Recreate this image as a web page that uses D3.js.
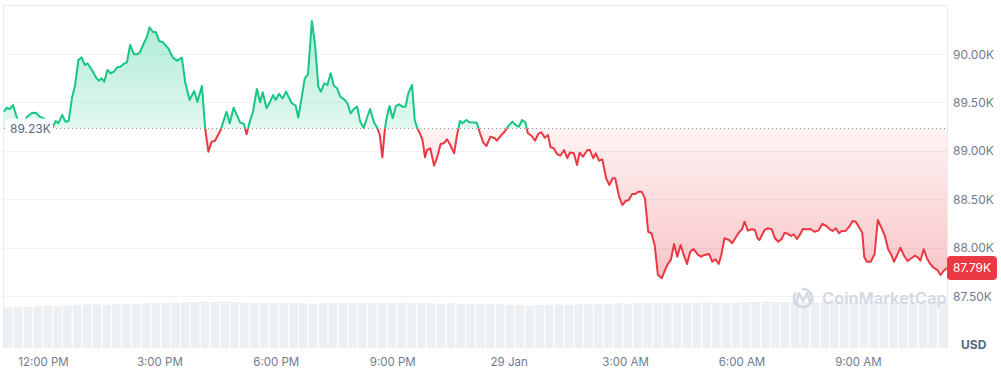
<!DOCTYPE html>
<html>
<head>
<meta charset="utf-8">
<script src="https://cdn.jsdelivr.net/npm/d3@7"></script>
<style>
  body { margin: 0; background: #fff; }
  svg { display: block; font-family: Inter, "Noto Sans", sans-serif; }
</style>
</head>
<body>
<div id="chart"></div>
<script>
// minutes after 28 Jan 12:00 PM
const minutes = [-61,-57,-52,-47,-41,-36,-30,-26,-18,-12,
  -5,2,13,19,23,29,34,39,44,49,
  54,59,64,68,75,82,86,90,94,99,
  104,109,114,119,124,129,134,140,145,149,
  154,160,164,169,174,179,185,193,200,207,
  214,219,226,233,238,245,250,255,260,265,
  274,283,288,294,304,310,314,319,324,330,
  335,339,345,350,355,359,364,370,375,384,
  390,394,399,404,409,415,420,425,429,434,
  439,444,449,454,459,466,470,475,480,485,
  490,495,500,505,511,516,520,524,528,531,
  535,540,545,550,555,560,564,570,574,578,
  582,586,590,593,598,604,609,614,619,624,
  629,635,639,644,648,654,659,670,675,680,
  685,691,698,701,708,713,718,725,730,735,
  740,745,749,755,760,765,770,775,780,784,
  789,794,799,805,810,814,820,825,829,834,
  841,845,850,854,859,864,870,875,880,884,
  890,895,900,905,910,915,920,925,930,935,
  940,945,950,956,961,966,970,975,980,985,
  990,995,1000,1005,1012,1017,1022,1029,1034,1039,
  1044,1048,1053,1060,1065,1070,1075,1080,1084,1089,
  1095,1100,1104,1107,1115,1120,1126,1131,1136,1141,
  1146,1151,1156,1160,1165,1170,1174,1181,1186,1192,
  1198,1204,1210,1216,1220,1225,1230,1234,1240,1246,
  1251,1256,1261,1266,1269,1273,1279,1285,1290,1296,
  1301,1306,1311,1315,1320,1325,1330,1336,1342,1347,
  1352,1356,1361,1366,1371,1376,1382,1387,1392,1397];

const prices = [89404,89445,89432,89473,89339,89267,89277,89346,89390,89394,
  89349,89329,89228,89308,89284,89370,89301,89308,89542,89680,
  89938,89966,89886,89904,89835,89749,89724,89749,89714,89835,
  89801,89817,89863,89869,89897,89914,90093,89997,89997,90018,
  90093,90179,90276,90230,90224,90134,90121,90059,89962,89931,
  89962,89714,89525,89618,89507,89669,89232,88991,89094,89101,
  89215,89404,89284,89445,89294,89277,89170,89301,89404,89638,
  89501,89604,89439,89501,89576,89525,89587,89542,89611,89491,
  89466,89342,89542,89749,89790,90341,90093,89662,89611,89697,
  89680,89801,89673,89646,89559,89525,89491,89387,89432,89456,
  89294,89239,89336,89432,89294,89239,89163,88933,89232,89352,
  89463,89336,89463,89480,89456,89456,89594,89680,89318,89232,
  89181,89112,88933,89008,89026,88846,88939,89070,89078,89119,
  89060,88974,89146,89308,89284,89318,89294,89290,89181,89084,
  89050,89146,89129,89104,89163,89197,89249,89301,89267,89249,
  89318,89294,89181,89153,89104,89174,89191,89135,89163,89036,
  89026,88967,88949,89008,88923,88982,88974,88853,88980,88939,
  89008,89008,88923,88974,88898,88912,88716,88647,88716,88716,
  88526,88440,88481,88492,88554,88554,88578,88578,88509,88164,
  88148,88027,87717,87683,87769,87838,87872,88037,87906,88027,
  87924,87831,87958,87986,87924,87906,87924,87934,87854,87879,
  87831,87924,88096,88079,88045,88102,88154,88189,88268,88175,
  88189,88182,88096,88079,88182,88199,88189,88096,88061,88086,
  88154,88141,88120,88138,88089,88138,88192,88189,88192,88164,
  88175,88244,88226,88189,88172,88199,88148,88172,88172,88216,
  88275,88268,88210,88154,87906,87854,87854,87931,88285,88199,
  88120,87983,87924,87854,87924,87999,87924,87862,87890,87916,
  87900,87865,87983,87890,87831,87792,87769,87717,87761,87790];

// relative volume, 15 minute buckets
const volumes = [85,86,86,87,88,87,89,90,91,91,90,91,92,92,93,94,94,
  95,96,96,97,96,97,96,95,95,94,93,93,94,93,92,93,93,94,93,93,94,
  95,94,95,94,94,93,92,93,92,92,91,92,91,90,90,89,90,90,91,90,91,91,
  92,92,93,92,93,93,94,94,93,94,95,95,95,94,95,96,96,97,96,96,97,96,
  96,96,97,96,96,95,96,96,96,96,95,96,96,98];

const openPrice = 89230;
const priceTicks = [87500, 88000, 88500, 89000, 89500, 90000];
const timeTicks = [0, 180, 360, 540, 720, 900, 1080, 1260];

const W = 1001, H = 371;
const plotLeft = 4, plotRight = 947, plotTop = 5, plotBottom = 348;
const green = "#16c784", red = "#ea3943";

const t0 = new Date(2026, 0, 28, 12, 0);
const toDate = m => new Date(t0.getTime() + m * 60000);
const data = minutes.map((m, i) => ({ date: toDate(m), price: prices[i] }));

const svg = d3.select("#chart").append("svg")
  .attr("width", W).attr("height", H);

const x = d3.scaleTime()
  .domain([toDate(minutes[0]), toDate(minutes[minutes.length - 1])])
  .range([plotLeft, plotRight]);
const y = d3.scaleLinear().domain([87500, 90000]).range([296, 54]);
const baseY = y(openPrice);

// volume bars
const xv = d3.scaleBand().domain(d3.range(volumes.length)).range([plotLeft, plotRight]).paddingInner(0.12);
const yv = d3.scaleLinear().domain([0, 100]).range([plotBottom, plotBottom - 48]);
svg.append("g").selectAll("rect")
  .data(volumes)
  .join("rect")
    .attr("x", (d, i) => xv(i))
    .attr("width", xv.bandwidth())
    .attr("y", d => yv(d))
    .attr("height", d => plotBottom - yv(d))
    .attr("fill", "#edf0f3");

// grid
svg.append("g").selectAll("line")
  .data(priceTicks)
  .join("line")
    .attr("x1", plotLeft).attr("x2", plotRight)
    .attr("y1", d => Math.round(y(d)) + 0.5).attr("y2", d => Math.round(y(d)) + 0.5)
    .attr("stroke", "#eff2f5");

// frame
svg.append("path")
  .attr("d", `M${plotLeft - 0.5},${plotBottom}V${plotTop + 0.5}H${plotRight + 0.5}V${plotBottom}`)
  .attr("fill", "none")
  .attr("stroke", "#e8ebef");

// gradients
const defs = svg.append("defs");
const gUp = defs.append("linearGradient").attr("id", "gUp")
  .attr("gradientUnits", "userSpaceOnUse").attr("x1", 0).attr("x2", 0)
  .attr("y1", y(90300)).attr("y2", baseY);
gUp.append("stop").attr("offset", 0).attr("stop-color", green).attr("stop-opacity", 0.34);
gUp.append("stop").attr("offset", 1).attr("stop-color", green).attr("stop-opacity", 0.12);
const gDown = defs.append("linearGradient").attr("id", "gDown")
  .attr("gradientUnits", "userSpaceOnUse").attr("x1", 0).attr("x2", 0)
  .attr("y1", baseY).attr("y2", y(87650));
gDown.append("stop").attr("offset", 0).attr("stop-color", red).attr("stop-opacity", 0.06);
gDown.append("stop").attr("offset", 1).attr("stop-color", red).attr("stop-opacity", 0.3);

defs.append("clipPath").attr("id", "clipUp").append("rect")
  .attr("x", 0).attr("y", 0).attr("width", W).attr("height", baseY);
defs.append("clipPath").attr("id", "clipDown").append("rect")
  .attr("x", 0).attr("y", baseY).attr("width", W).attr("height", H - baseY);

const area = d3.area().x(d => x(d.date)).y0(baseY).y1(d => y(d.price));
const line = d3.line().x(d => x(d.date)).y(d => y(d.price));

svg.append("path").datum(data).attr("d", area)
  .attr("fill", "url(#gUp)").attr("clip-path", "url(#clipUp)");
svg.append("path").datum(data).attr("d", area)
  .attr("fill", "url(#gDown)").attr("clip-path", "url(#clipDown)");

// open price dotted line
svg.append("line")
  .attr("x1", plotLeft).attr("x2", plotRight)
  .attr("y1", baseY).attr("y2", baseY)
  .attr("stroke", "#8a8f99").attr("stroke-width", 1)
  .attr("stroke-dasharray", "1,3");

svg.append("path").datum(data).attr("d", line)
  .attr("fill", "none").attr("stroke", green).attr("stroke-width", 2)
  .attr("stroke-linejoin", "round").attr("clip-path", "url(#clipUp)");
svg.append("path").datum(data).attr("d", line)
  .attr("fill", "none").attr("stroke", red).attr("stroke-width", 2)
  .attr("stroke-linejoin", "round").attr("clip-path", "url(#clipDown)");

// open price label
svg.append("rect")
  .attr("x", 5).attr("y", baseY - 10).attr("width", 48).attr("height", 19).attr("rx", 4)
  .attr("fill", "#fff").attr("fill-opacity", 0.92);
svg.append("text")
  .attr("x", 10).attr("y", baseY + 4.5)
  .attr("font-size", 12).attr("fill", "#58667e")
  .text((openPrice / 1000).toFixed(2) + "K");

// right axis
svg.append("g").selectAll("text")
  .data(priceTicks)
  .join("text")
    .attr("x", 953).attr("y", d => y(d) + 4.5)
    .attr("font-size", 12).attr("fill", "#6f7b8f")
    .text(d => (d / 1000).toFixed(2) + "K");

svg.append("text")
  .attr("x", 961).attr("y", 349)
  .attr("font-size", 12).attr("font-weight", 700).attr("fill", "#58667e")
  .text("USD");

// bottom axis
const fmtTime = d3.timeFormat("%-I:%M %p"), fmtDay = d3.timeFormat("%-d %b");
svg.append("g").selectAll("text")
  .data(timeTicks.map(toDate))
  .join("text")
    .attr("x", d => x(d)).attr("y", 366)
    .attr("text-anchor", "middle")
    .attr("font-size", 11.5).attr("fill", "#6f7b8f")
    .text(d => d.getHours() === 0 ? fmtDay(d) : fmtTime(d));

// last price tag
const last = data[data.length - 1];
svg.append("rect")
  .attr("x", 947).attr("y", y(last.price) - 12).attr("width", 50).attr("height", 24).attr("rx", 4)
  .attr("fill", red);
svg.append("text")
  .attr("x", 972).attr("y", y(last.price) + 4.5)
  .attr("text-anchor", "middle")
  .attr("font-size", 12).attr("fill", "#fff")
  .text((last.price / 1000).toFixed(2) + "K");

// watermark
const wm = svg.append("g").attr("fill", "none").attr("stroke", "#d3d9e3");
wm.append("path")
  .attr("d", d3.arc()({ innerRadius: 9, outerRadius: 9, startAngle: -Math.PI * 0.05, endAngle: Math.PI * 1.7 }))
  .attr("transform", "translate(803,298)")
  .attr("stroke-width", 2.6);
wm.append("path")
  .attr("d", "M796,304 L799,293 L803,301 L807,293 L810,302 L813,300")
  .attr("stroke-width", 2.4).attr("stroke-linejoin", "round").attr("stroke-linecap", "round");
svg.append("text")
  .attr("x", 822).attr("y", 304)
  .attr("font-size", 16.5).attr("font-weight", 600).attr("fill", "#d3d9e3")
  .text("CoinMarketCap");
</script>
</body>
</html>
